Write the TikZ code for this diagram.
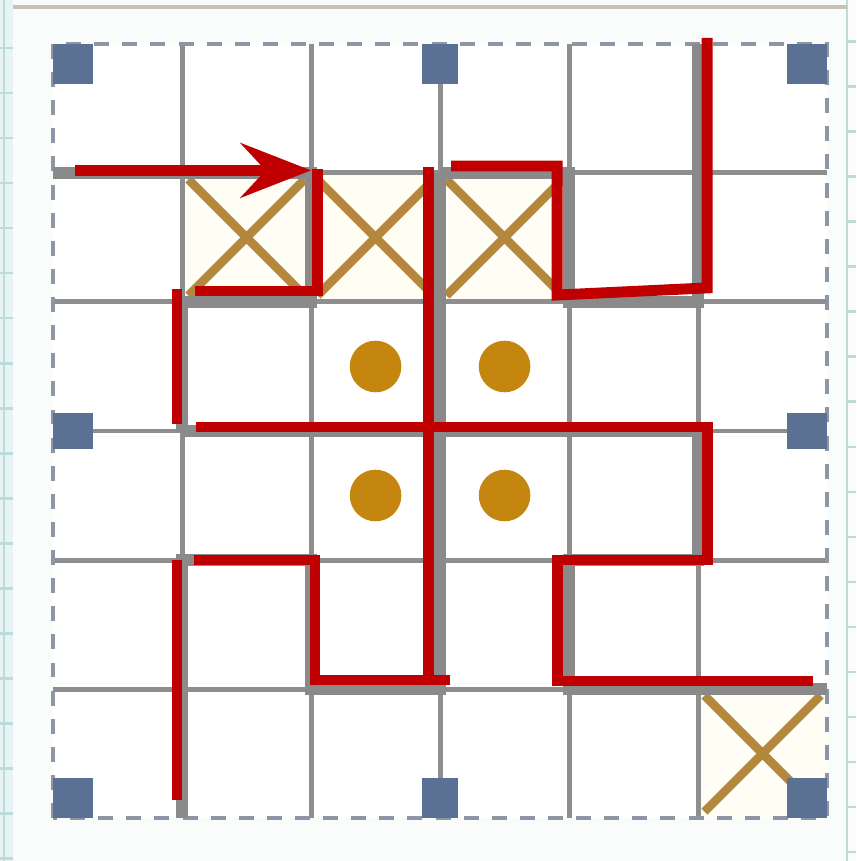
\documentclass[tikz,border=0pt]{standalone}
\usepackage{xcolor}
\usetikzlibrary{arrows.meta}

\definecolor{tracered}{HTML}{C00000}
\definecolor{wallgray}{HTML}{8A8A8A}
\definecolor{gridgray}{HTML}{8E8E8E}
\definecolor{edgegray}{HTML}{8C96A4}
\definecolor{markblue}{HTML}{5B7193}
\definecolor{crossbrown}{HTML}{B3873C}
\definecolor{crossfill}{HTML}{FFFDF4}
\definecolor{dotorange}{HTML}{C4860E}
\definecolor{paper}{HTML}{FAFCFC}
\definecolor{stripcyan}{HTML}{E8F4F4}
\definecolor{stripline}{HTML}{BCDCDC}
\definecolor{topline}{HTML}{C6C0B6}

\begin{document}
\begin{tikzpicture}[
      grid line/.style={
        gridgray,
        line width = 1.1pt,
      },
      border/.style={
        edgegray,
        line width = 0.9pt,
        dash pattern = on 3.3pt off 2.9pt,
      },
      wall/.style={
        wallgray,
        line width = 2.6pt,
        line join = miter,
      },
      trace/.style={
        tracered,
        line width = 2.4pt,
        line join = miter,
      },
      corner mark/.style={fill = markblue},
      cross/.style={crossbrown, line width = 1.9pt},
      coin/.style={fill = dotorange},
    ]
    \useasboundingbox (-0.411,-0.333) rectangle (6.225,6.341);
    \fill[paper] (-0.411,-0.333) rectangle (6.225,6.341);

    % page edges
    \fill[stripcyan] (-0.411,-0.333) rectangle (-0.31,6.341);
    \draw[stripline, line width = 0.6pt] (-0.38,-0.333) -- (-0.38,6.341);
    \foreach \k in {0,...,18}
      \draw[stripline, line width = 0.6pt] (-0.411,5.969-0.349*\k) -- (-0.31,5.969-0.349*\k);
    \draw[stripline, line width = 0.6pt] (6.155,-0.333) -- (6.155,6.341);
    \foreach \k in {-2,...,16}
      \draw[stripline, line width = 0.6pt] (6.155,0.434+0.349*\k) -- (6.225,0.434+0.349*\k);
    \draw[topline, line width = 0.9pt] (-0.31,6.287) -- (6.155,6.287);

    % board
    \fill[white] (0,0) rectangle (6,6);
    \foreach \cx/\cy in {1/4, 2/4, 3/4, 5/0}
      \fill[crossfill] (\cx,\cy) rectangle ++(1,1);
    \foreach \i in {1,...,5} {
      \draw[grid line] (\i,0) -- (\i,6);
      \draw[grid line] (0,\i) -- (6,\i);
    }
    \foreach \cx/\cy in {1/4, 2/4, 3/4, 5/0}
      \draw[cross] (\cx+0.05,\cy+0.05) -- (\cx+0.95,\cy+0.95)
        (\cx+0.05,\cy+0.95) -- (\cx+0.95,\cy+0.05);
    \foreach \cx/\cy in {2.5/3.5, 3.5/3.5, 2.5/2.5, 3.5/2.5}
      \fill[coin] (\cx,\cy) circle (0.2);
    \draw[border] (0,0) rectangle (6,6);
    \foreach \mx/\my/\mw/\mh in {0/0/0.31/0.31, 5.69/0/0.31/0.31,
        0/5.69/0.31/0.31, 5.69/5.69/0.31/0.31, 2.86/0/0.28/0.31,
        2.86/5.69/0.28/0.31, 0/2.86/0.31/0.28, 5.69/2.86/0.31/0.28}
      \fill[corner mark] (\mx,\my) rectangle ++(\mw,\mh);

    % walls
    \draw[wall] (0,5) -- (2,5) -- (2,4) -- (1,4) -- (1,3);
    \draw[wall] (3,5) -- (4,5) -- (4,4) -- (5,4) -- (5,6);
    \draw[wall] (3,5) -- (3,1) -- (2,1) -- (2,2) -- (1,2) -- (1,0);
    \draw[wall] (1,3) -- (5,3) -- (5,2) -- (4,2) -- (4,1) -- (6,1);

    % traced cuts
    \draw[trace, -{Stealth[length = 15.5pt, width = 12pt, inset = 5.5pt]}]
      (0.17,5.02) -- (2.0,5.02);
    \draw[trace] (1.10,4.085) -- (2.047,4.085) -- (2.047,5.03);
    \draw[trace] (0.961,4.10) -- (0.961,3.054);
    \draw[trace] (2.907,5.05) -- (2.907,1.07);
    \draw[trace] (3.078,1.07) -- (2.031,1.07) -- (2.031,2.0) -- (1.093,2.0);
    \draw[trace] (1.109,3.031) -- (5.07,3.031) -- (5.07,2.0) -- (3.907,2.0)
      -- (3.907,1.062) -- (5.891,1.062);
    \draw[trace] (0.961,2.0) -- (0.961,0.14);
    \draw[trace] (3.085,5.054) -- (3.907,5.054) -- (3.907,4.054)
      -- (5.07,4.109) -- (5.07,6.047);
  \end{tikzpicture}
\end{document}
